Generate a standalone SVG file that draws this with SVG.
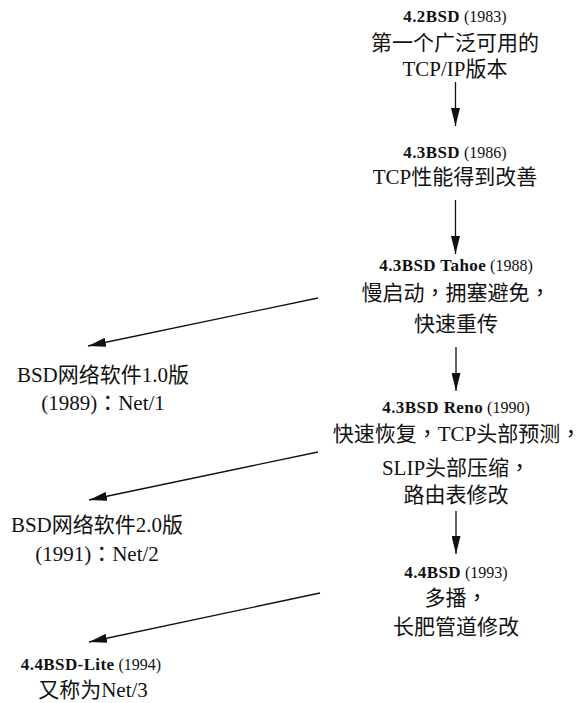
<svg xmlns="http://www.w3.org/2000/svg" width="586" height="703" viewBox="0 0 586 703">
<style>
text{font-family:"Liberation Serif",serif;font-size:21px;fill:#111;text-anchor:middle}
.h{font-size:16px}
.b{font-weight:bold;font-size:17px;letter-spacing:0.4px}
.c{font-family:"Noto Sans CJK SC",sans-serif}
.p{font-family:"Noto Sans CJK TC","Noto Sans CJK SC",sans-serif}
.ln{stroke:#111;stroke-width:1.3;fill:none;marker-end:url(#ah)}
</style>
<defs>
<marker id="ah" markerUnits="userSpaceOnUse" markerWidth="18" markerHeight="9" refX="18" refY="4.5" orient="auto">
<path d="M0,0 L18,4.5 L0,9 Z" fill="#111"/>
</marker>
</defs>
<rect width="586" height="703" fill="#fff"/>
<g id="connectors">
<line class="ln" x1="455.5" y1="82" x2="455.5" y2="126"/>
<line class="ln" x1="455.5" y1="200" x2="455.5" y2="254"/>
<line class="ln" x1="456" y1="347" x2="456" y2="391"/>
<line class="ln" x1="456" y1="511" x2="456" y2="554"/>
<line class="ln" x1="318" y1="298" x2="88" y2="346"/>
<line class="ln" x1="318" y1="452" x2="89" y2="500"/>
<line class="ln" x1="320" y1="593" x2="89" y2="642"/>
</g>
<g id="n-42bsd">
<text x="455" y="22" class="h"><tspan class="b">4.2BSD</tspan> (1983)</text>
<text x="455" y="50" class="c">第一个广泛可用的</text>
<text x="455" y="76">TCP/IP<tspan class="c">版本</tspan></text>
</g>
<g id="n-43bsd">
<text x="455" y="158" class="h"><tspan class="b">4.3BSD</tspan> (1986)</text>
<text x="455" y="184">TCP<tspan class="c">性能得到改善</tspan></text>
</g>
<g id="n-tahoe">
<text x="456" y="271" class="h"><tspan class="b">4.3BSD Tahoe</tspan> (1988)</text>
<text x="456" y="300" class="c">慢启动<tspan class="p">，</tspan>拥塞避免<tspan class="p">，</tspan></text>
<text x="456" y="331" class="c">快速重传</text>
</g>
<g id="n-reno">
<text x="456" y="413" class="h"><tspan class="b">4.3BSD Reno</tspan> (1990)</text>
<text x="457" y="441"><tspan class="c">快速恢复</tspan><tspan class="p">，</tspan>TCP<tspan class="c">头部预测</tspan><tspan class="p">，</tspan></text>
<text x="456" y="475">SLIP<tspan class="c">头部压缩</tspan><tspan class="p">，</tspan></text>
<text x="456" y="502" class="c">路由表修改</text>
</g>
<g id="n-44bsd">
<text x="456" y="578" class="h"><tspan class="b">4.4BSD</tspan> (1993)</text>
<text x="456" y="605" class="c">多播<tspan class="p">，</tspan></text>
<text x="456" y="634" class="c">长肥管道修改</text>
</g>
<g id="n-net1">
<text x="103" y="382">BSD<tspan class="c">网络软件</tspan>1.0<tspan class="c">版</tspan></text>
<text x="103" y="410">(1989)<tspan class="p">：</tspan>Net/1</text>
</g>
<g id="n-net2">
<text x="97" y="532">BSD<tspan class="c">网络软件</tspan>2.0<tspan class="c">版</tspan></text>
<text x="97" y="561">(1991)<tspan class="p">：</tspan>Net/2</text>
</g>
<g id="n-lite">
<text x="91" y="670" class="h"><tspan class="b">4.4BSD-Lite</tspan> (1994)</text>
<text x="93" y="697"><tspan class="c">又称为</tspan>Net/3</text>
</g>
</svg>
